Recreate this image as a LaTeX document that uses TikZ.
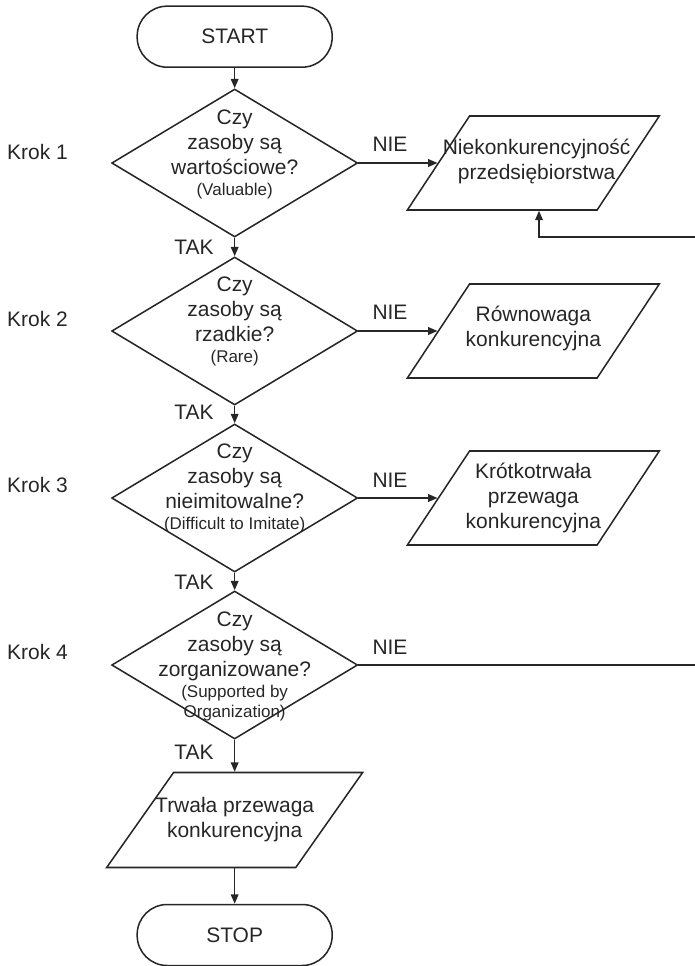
\documentclass[tikz,border=0pt]{standalone}
\usepackage{fontspec}
\setmainfont{Liberation Sans}
\usetikzlibrary{shapes.geometric}
\usetikzlibrary{calc}
\usetikzlibrary{arrows.meta}

\newcommand{\mainsize}{\fontsize{17.9}{21.3}\selectfont}
\newcommand{\notesize}{\fontsize{14.5}{17.5}\selectfont}

\begin{document}
\begin{tikzpicture}
        % ================= 样式定义 =================
        \tikzset{
            % 起止框:圆角矩形
            term/.style={rectangle, rounded corners=0.9cm, draw=black!85, line width=1.3pt, minimum width=5.85cm, minimum height=1.83cm, inner sep=0pt, font=\mainsize, text=black!85},
            % 判断框:菱形 (文字另放)
            decision/.style={diamond, draw=black!85, line width=1.3pt, minimum width=7.38cm, minimum height=4.44cm, inner sep=0pt},
            % 结果框:平行四边形 (文字另放)
            result/.style={trapezium, trapezium left angle=64, trapezium right angle=116, trapezium stretches=true, draw=black!85, line width=1.3pt, minimum width=7.56cm, minimum height=2.82cm, inner sep=2pt},
            % 框内文字
            qtext/.style={align=center, inner sep=0pt, font=\mainsize, text=black!85},
            % 旁注:Krok / NIE / TAK
            lbl/.style={inner sep=0pt, font=\mainsize, text=black!85},
            % 箭头
            arrow/.style={draw=black!85, line width=1.3pt, -{Triangle[length=8pt, width=6.5pt]}}
        }

        \useasboundingbox (0,0) rectangle (20.85,-28.98);

        % ================= START =================
        \node[term] (start) at (7.04,-1.1) {START};

        % ================= 第一步:Valuable =================
        \begin{scope}[shift={(0,-4.89)}]
            \node[lbl, anchor=west] (k1) at (0.21,0.33) {Krok 1};
            % 判断
            \node[decision] (d1) at (7.04,0) {};
            \node[qtext] (q1) at (7.04,0.27) {Czy\\zasoby są\\wartościowe?\\[-3.4pt]{\notesize (Valuable)}};
            % 结果
            \node[result] (p1) at (16.0,0) {};
            \node[qtext] (r1) at (16.1,0.04) {Niekonkurencyjność\\przedsiębiorstwa};
            % NIE 分支
            \draw[arrow] (d1) -- (p1);
            \node[lbl] (nie1) at (11.7,0.57) {NIE};
            \node[lbl] (tak1) at (5.82,-2.52) {TAK};
        \end{scope}

        % ================= 第二步:Rare =================
        \begin{scope}[shift={(0,-9.93)}]
            \node[lbl, anchor=west] (k2) at (0.21,0.36) {Krok 2};
            \node[decision] (d2) at (7.04,0) {};
            \node[qtext] (q2) at (7.04,0.3) {Czy\\zasoby są\\rzadkie?\\[-3.4pt]{\notesize (Rare)}};
            \node[result] (p2) at (16.0,0) {};
            \node[qtext] (r2) at (16.0,0.08) {Równowaga\\konkurencyjna};
            \draw[arrow] (d2) -- (p2);
            \node[lbl] (nie2) at (11.7,0.57) {NIE};
            \node[lbl] (tak2) at (5.82,-2.43) {TAK};
        \end{scope}

        % ================= 第三步:Difficult to Imitate =================
        \begin{scope}[shift={(0,-14.94)}]
            \node[lbl, anchor=west] (k3) at (0.21,0.39) {Krok 3};
            \node[decision] (d3) at (7.04,0) {};
            \node[qtext] (q3) at (7.04,0.28) {Czy\\zasoby są\\nieimitowalne?\\[-3.4pt]{\notesize (Difficult to Imitate)}};
            \node[result] (p3) at (16.0,0) {};
            \node[qtext] (r3) at (16.0,0) {Krótkotrwała\\przewaga\\konkurencyjna};
            \draw[arrow] (d3) -- (p3);
            \node[lbl] (nie3) at (11.7,0.54) {NIE};
            \node[lbl] (tak3) at (5.82,-2.52) {TAK};
        \end{scope}

        % ================= 第四步:Organization =================
        \begin{scope}[shift={(0,-19.95)}]
            \node[lbl, anchor=west] (k4) at (0.21,0.39) {Krok 4};
            \node[decision] (d4) at (7.04,0) {};
            \node[qtext] (q4) at (7.04,-0.04) {Czy\\zasoby są\\zorganizowane?\\[-3.4pt]{\notesize (Supported by}\\[-4pt]{\notesize Organization)}};
            \node[lbl] (nie4) at (11.7,0.54) {NIE};
            \node[lbl] (tak4) at (5.82,-2.61) {TAK};
            % 回到 Krok 1 的结果 (竖线在画面右缘之外)
            \coordinate (loopa) at (21.0,0);
        \end{scope}
        \coordinate (loopb) at ($(p1.south)+(0.17,-0.78)$);
        \draw[arrow] (d4.east) -- (loopa) |- (loopb) -- (loopb |- p1.south);

        % ================= 结果与 STOP =================
        \node[result, trapezium left angle=61.3, trapezium right angle=118.7, minimum width=7.68cm, minimum height=2.85cm] (p5) at (7.04,-24.6) {};
        \node[qtext] (r5) at (7.04,-24.6) {Trwała przewaga\\konkurencyjna};
        \node[term] (stop) at (7.04,-28.05) {STOP};

        % 主干箭头
        \draw[arrow] (start) -- (d1);
        \draw[arrow] (d1) -- (d2);
        \draw[arrow] (d2) -- (d3);
        \draw[arrow] (d3) -- (d4);
        \draw[arrow] (d4) -- (p5);
        \draw[arrow] (p5) -- (stop);

    \end{tikzpicture}
\end{document}
